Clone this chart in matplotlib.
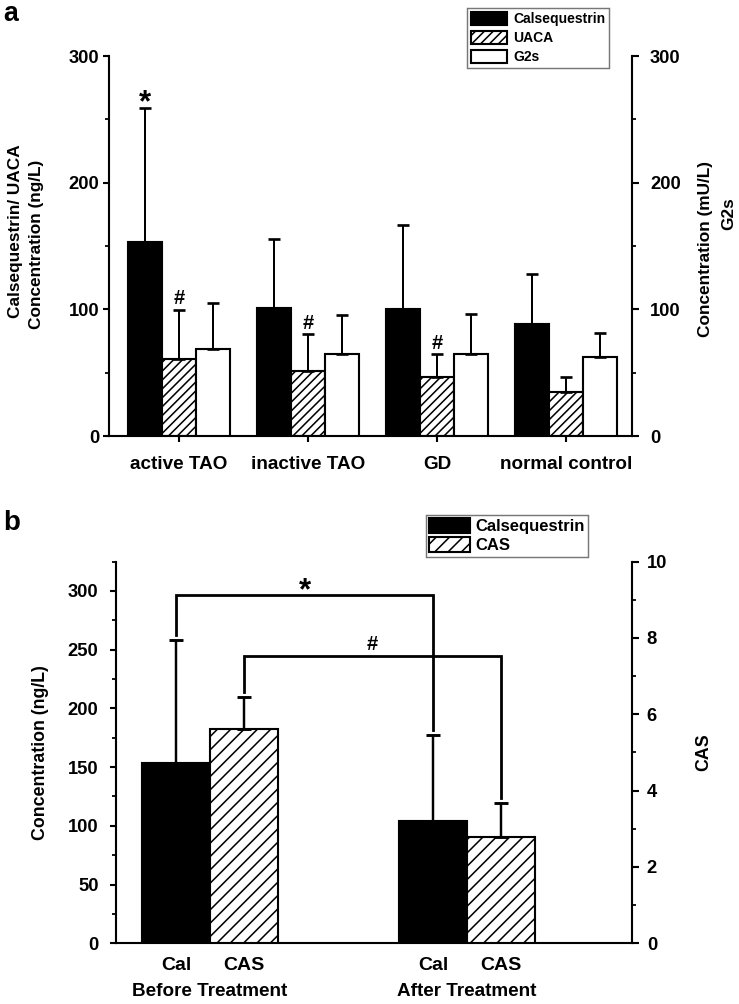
import matplotlib
matplotlib.use('Agg')
import matplotlib.pyplot as plt
import matplotlib.transforms as mtransforms
from matplotlib.ticker import MultipleLocator
import numpy as np

# ── Panel a data ──────────────────────────────────────────────────────────
groups_a = ['active TAO', 'inactive TAO', 'GD', 'normal control']
cal_a = [153.4, 101.3, 100.0, 88.2]
cal_a_sd = [105.3, 54.2, 66.6, 39.7]
uaca_a = [60.5, 51.6, 46.3, 34.7]
uaca_a_sd = [39.0, 28.7, 18.4, 11.6]
g2s_a = [68.9, 64.5, 64.7, 62.6]
g2s_a_sd = [35.8, 31.0, 31.6, 18.4]
star_a = [True, False, False, False]      # '*' over Calsequestrin
hash_a = [True, True, True, False]        # '#' over UACA

# ── Panel b data ──────────────────────────────────────────────────────────
groups_b = ['Before Treatment', 'After Treatment']
cal_b = [153.4, 104.1]
cal_b_sd = [104.5, 73.3]
cas_b = [5.62, 2.79]
cas_b_sd = [0.83, 0.88]
star_bracket_b = 297.0   # ng/L
hash_bracket_b = 7.54    # CAS units

DPI = 80
plt.rcParams.update({
    'font.family': ['Liberation Sans', 'DejaVu Sans'],
    'font.weight': 'bold',
    'axes.linewidth': 1.9,
    'hatch.linewidth': 1.4,
    'hatch.color': 'black',
})

fig = plt.figure(figsize=(739 / DPI, 1004 / DPI), dpi=DPI)
fig.patch.set_facecolor('white')

W = 0.265
TICK_FS = 16.5
bar_kw = dict(edgecolor='black', linewidth=1.9)
err_kw = dict(fmt='none', ecolor='black', elinewidth=1.8, capthick=2.4)


def style_axes(ax, axr, lpad, rpad, llen, rlen):
    ax.spines['top'].set_visible(False)
    ax.spines['right'].set_visible(False)
    for s in ['top', 'left', 'bottom']:
        axr.spines[s].set_visible(False)
    ax.tick_params(axis='y', which='major', direction='out', length=llen, width=1.9,
                   pad=lpad, labelsize=TICK_FS)
    ax.tick_params(axis='y', which='minor', direction='out', length=llen * 0.6, width=1.6)
    axr.tick_params(axis='y', which='major', direction='out', length=rlen, width=1.9,
                    pad=rpad, labelsize=TICK_FS)
    axr.tick_params(axis='y', which='minor', direction='out', length=rlen * 0.6, width=1.6)


# ── Panel a ───────────────────────────────────────────────────────────────
ax = fig.add_axes([0.1475, 0.5657, 0.7077, 0.3785])
axr = ax.twinx()
x = np.arange(len(groups_a))
b1 = ax.bar(x - W, cal_a, W, color='black', label='Calsequestrin', **bar_kw)
b2 = ax.bar(x, uaca_a, W, color='white', hatch='///', label='UACA', **bar_kw)
b3 = axr.bar(x + W, g2s_a, W, color='white', label='G2s', **bar_kw)
ax.errorbar(x - W, cal_a, yerr=[np.zeros(4), cal_a_sd], capsize=5.5, **err_kw)
ax.errorbar(x, uaca_a, yerr=[np.zeros(4), uaca_a_sd], capsize=5.5, **err_kw)
axr.errorbar(x + W, g2s_a, yerr=[np.zeros(4), g2s_a_sd], capsize=5.5, **err_kw)

for i in range(len(groups_a)):
    if star_a[i]:
        ax.annotate('*', xy=(x[i] - W, cal_a[i] + cal_a_sd[i]), xytext=(0, -3),
                    textcoords='offset points', ha='center', va='baseline', fontsize=28)
    if hash_a[i]:
        ax.annotate('#', xy=(x[i], uaca_a[i] + uaca_a_sd[i]), xytext=(0, 5),
                    textcoords='offset points', ha='center', va='baseline', fontsize=18)

ax.set_xlim(-0.543, 3.512)
ax.set_ylim(0, 300)
axr.set_ylim(0, 300)
for a_ in (ax, axr):
    a_.yaxis.set_major_locator(MultipleLocator(100))
    a_.yaxis.set_minor_locator(MultipleLocator(50))
ax.set_xticks(x)
ax.set_xticklabels(groups_a, fontsize=17)
ax.tick_params(axis='x', direction='out', length=5.4, width=1.9, pad=13)
style_axes(ax, axr, 3.6, 10, 5.4, 6.3)

ax.text(-0.1788, 0.5395, 'Calsequestrin/ UACA', transform=ax.transAxes, rotation=90,
        ha='center', va='center', fontsize=15.5)
ax.text(-0.1386, 0.505, 'Concentration (ng/L)', transform=ax.transAxes, rotation=90,
        ha='center', va='center', fontsize=15.5)
ax.text(1.1415, 0.492, 'Concentration (mU/L)', transform=ax.transAxes, rotation=90,
        ha='center', va='center', fontsize=15.5)
ax.text(1.1855, 0.584, 'G2s', transform=ax.transAxes, rotation=90,
        ha='center', va='center', fontsize=15.5)

leg = fig.legend(handles=[b1, b2, b3], labels=['Calsequestrin', 'UACA', 'G2s'],
                 loc='upper left', bbox_to_anchor=(0.632, 0.992),
                 bbox_transform=fig.transFigure, fontsize=12.5, frameon=True,
                 fancybox=False, handlelength=2.66, handleheight=1.08,
                 handletextpad=0.43, borderpad=0.25, labelspacing=0.36,
                 borderaxespad=0)
leg.get_frame().set_edgecolor('#555555')
leg.get_frame().set_linewidth(1.3)

fig.text(0.004, 0.999, 'a', fontsize=24, va='top', ha='left')

# ── Panel b ───────────────────────────────────────────────────────────────
bx = fig.add_axes([0.157, 0.0605, 0.6982, 0.3801])
bxr = bx.twinx()
xb = np.arange(len(groups_b))
o = 0.1325
c1 = bx.bar(xb - o, cal_b, W, color='black', **bar_kw)
c2 = bxr.bar(xb + o, cas_b, W, color='white', hatch='//', **bar_kw)
err_b = dict(err_kw, elinewidth=2.2, capthick=2.6)
bx.errorbar(xb - o, cal_b, yerr=[np.zeros(2), cal_b_sd], capsize=6.3, **err_b)
bxr.errorbar(xb + o, cas_b, yerr=[np.zeros(2), cas_b_sd], capsize=6.3, **err_b)

bx.set_xlim(-0.366, 1.642)
bx.set_ylim(0, 325)
bxr.set_ylim(0, 10)
bx.yaxis.set_major_locator(MultipleLocator(50))
bx.yaxis.set_minor_locator(MultipleLocator(25))
bxr.yaxis.set_major_locator(MultipleLocator(2))
bxr.yaxis.set_minor_locator(MultipleLocator(1))
style_axes(bx, bxr, 10, 7, 5.8, 6.3)

# brackets
gap_l = 4.5
gap_r = gap_l * 10 / 325
lw_br = 2.5
l_top = cal_b[0] + cal_b_sd[0] + gap_l
r_top = cal_b[1] + cal_b_sd[1] + gap_l
bx.plot([xb[0] - o, xb[0] - o, xb[1] - o, xb[1] - o],
        [l_top, star_bracket_b, star_bracket_b, r_top],
        color='black', lw=lw_br, solid_joinstyle='miter')
bx.annotate('*', xy=((xb[0] + xb[1]) / 2 - o, star_bracket_b), xytext=(0, -4),
            textcoords='offset points', ha='center', va='baseline', fontsize=28)
l_top2 = cas_b[0] + cas_b_sd[0] + gap_r
r_top2 = cas_b[1] + cas_b_sd[1] + gap_r
bxr.plot([xb[0] + o, xb[0] + o, xb[1] + o, xb[1] + o],
         [l_top2, hash_bracket_b, hash_bracket_b, r_top2],
         color='black', lw=lw_br, solid_joinstyle='miter')
bxr.annotate('#', xy=((xb[0] + xb[1]) / 2 + o, hash_bracket_b), xytext=(0, 5),
             textcoords='offset points', ha='center', va='baseline', fontsize=18)

bx.set_xticks([])
trans = mtransforms.blended_transform_factory(bx.transData, bx.transAxes)
for i, g in enumerate(groups_b):
    bx.text(xb[i] - o, -0.057, 'Cal', transform=trans, ha='center', va='center', fontsize=17.5)
    bx.text(xb[i] + o, -0.057, 'CAS', transform=trans, ha='center', va='center', fontsize=17.5)
    bx.text(xb[i], -0.1275, g, transform=trans, ha='center', va='center', fontsize=17)

bx.text(-0.1473, 0.501, 'Concentration (ng/L)', transform=bx.transAxes, rotation=90,
        ha='center', va='center', fontsize=16)
bx.text(1.1395, 0.501, 'CAS', transform=bx.transAxes, rotation=90,
        ha='center', va='center', fontsize=16)

leg_b = fig.legend(handles=[c1, c2], labels=['Calsequestrin', 'CAS'],
                   loc='upper left', bbox_to_anchor=(0.5765, 0.487),
                   bbox_transform=fig.transFigure, fontsize=15, frameon=True,
                   fancybox=False, handlelength=2.46, handleheight=0.96,
                   handletextpad=0.3, borderpad=0.2, labelspacing=0.18,
                   borderaxespad=0)
leg_b.get_frame().set_edgecolor('#555555')
leg_b.get_frame().set_linewidth(1.3)

fig.text(0.004, 1 - 530 / 1004, 'b', fontsize=25, va='baseline', ha='left')

fig.savefig('out.png', dpi=DPI, facecolor='white')
